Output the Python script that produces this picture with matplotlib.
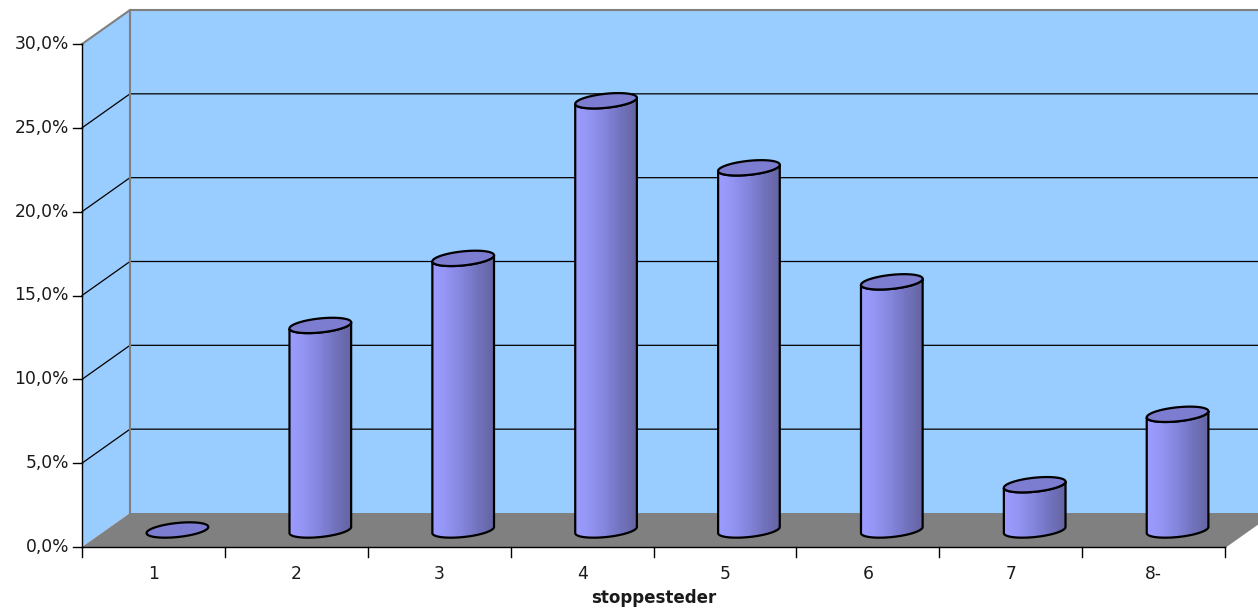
import numpy as np
import matplotlib
matplotlib.use("Agg")
import matplotlib.pyplot as plt
from matplotlib.patches import Polygon
from matplotlib.colors import LinearSegmentedColormap

# data
categories = ["1", "2", "3", "4", "5", "6", "7", "8-"]
values = [0.0, 12.2, 16.2, 25.6, 21.6, 14.8, 2.7, 6.9]
y_ticks = [0, 5, 10, 15, 20, 25, 30]
y_ticklabels = ["0,0%", "5,0%", "10,0%", "15,0%", "20,0%", "25,0%", "30,0%"]
xlabel = "stoppesteder"

W, H = 1258, 609
fig = plt.figure(figsize=(W / 100, H / 100), dpi=100)
# front plane of the 3d box (pixels)
L, R, B, T = 82, 1225, 547, 44
ax = fig.add_axes([L / W, (H - B) / H, (R - L) / W, (B - T) / H])
n = len(categories)
ax.axis("off")

px_x = (R - L) / n
px_y = (B - T) / 30.0
DX = 48 / px_x      # depth offset, data units
DY = 34 / px_y

wall = "#99ccff"
edge = "#808080"
txt = "#1a1a1a"

# back wall + side wall
ax.add_patch(Polygon([(DX, DY), (n + 2, DY), (n + 2, 30 + DY), (DX, 30 + DY)],
                     closed=True, fc=wall, ec="none", clip_on=False, zorder=0))
ax.add_patch(Polygon([(0, 0), (DX, DY), (DX, 30 + DY), (0, 30)],
                     closed=True, fc=wall, ec="none", clip_on=False, zorder=0))
# gridlines
for v in y_ticks[1:-1]:
    ax.plot([0, DX, n + 2], [v, v + DY, v + DY], color="black", lw=0.9,
            clip_on=False, zorder=1)
# floor
ax.add_patch(Polygon([(0, 0), (n, 0), (n + DX, DY), (DX, DY)], closed=True,
                     fc="#808080", ec="none", clip_on=False, zorder=1))
# wall edges
ax.plot([DX, DX], [DY, 30 + DY], color=edge, lw=1.5, clip_on=False, zorder=2)
ax.plot([0, DX, n + 2], [30, 30 + DY, 30 + DY], color=edge, lw=1.5,
        clip_on=False, zorder=2)
ax.plot([n, n + DX], [0, DY], color=edge, lw=1.2, clip_on=False, zorder=2)

# axes lines and ticks
ax.plot([0, 0], [0, 30], color="black", lw=1.0, clip_on=False, zorder=3)
ax.plot([0, n], [0, 0], color="black", lw=1.0, clip_on=False, zorder=3)
for v, lab in zip(y_ticks, y_ticklabels):
    ax.plot([-9 / px_x, 0], [v, v], color="black", lw=1.0, clip_on=False)
    ax.text(-13 / px_x, v, lab, ha="right", va="center", fontsize=12.3,
            color=txt)
for i in range(n + 1):
    ax.plot([i, i], [0, -10 / px_y], color="black", lw=1.0, clip_on=False)
for i, c in enumerate(categories):
    ax.text(i + 0.5, -27 / px_y, c, ha="center", va="center", fontsize=12.3,
            color=txt)
ax.text(n / 2, -51 / px_y, xlabel, ha="center", va="center", fontsize=12,
        fontweight="bold", color=txt)

# cylinders
a_px, b_px, tilt = 31, 7, np.deg2rad(6)
cmap = LinearSegmentedColormap.from_list(
    "cyl", ["#9c9cff", "#9394f2", "#8384da", "#7172bd", "#6464a0"])
t = np.linspace(0, 2 * np.pi, 200)


def ell(cx, cy, tt):
    ex = a_px * np.cos(tt) * np.cos(tilt) - b_px * np.sin(tt) * np.sin(tilt)
    ey = a_px * np.cos(tt) * np.sin(tilt) + b_px * np.sin(tt) * np.cos(tilt)
    return cx + ex / px_x, cy + ey / px_y


grad = np.linspace(0, 1, 256).reshape(1, -1)
for i, v in enumerate(values):
    cx = i + 0.5 + DX / 2
    cy0 = DY / 2
    cy1 = cy0 + v
    if v > 0:
        front = np.linspace(np.pi, 2 * np.pi, 100)
        bx, by = ell(cx, cy0, front)
        tx, ty = ell(cx, cy1, front[::-1])
        body = np.column_stack([np.r_[bx, tx], np.r_[by, ty]])
        ax.add_patch(Polygon(body, closed=True, fc="none", ec="black", lw=1.6,
                             zorder=5))
        im = ax.imshow(grad, cmap=cmap, aspect="auto", zorder=4,
                       extent=[bx.min(), bx.max(), by.min(), ty.max() + 1])
        im.set_clip_path(Polygon(body, closed=True, transform=ax.transData))
    ex, ey = ell(cx, cy1, t)
    ax.add_patch(Polygon(np.column_stack([ex, ey]), closed=True,
                         fc="#7c7cd0", ec="black", lw=1.6, zorder=6))

ax.set_xlim(0, n)
ax.set_ylim(0, 30)
fig.savefig("out.png", dpi=100, facecolor="white")
